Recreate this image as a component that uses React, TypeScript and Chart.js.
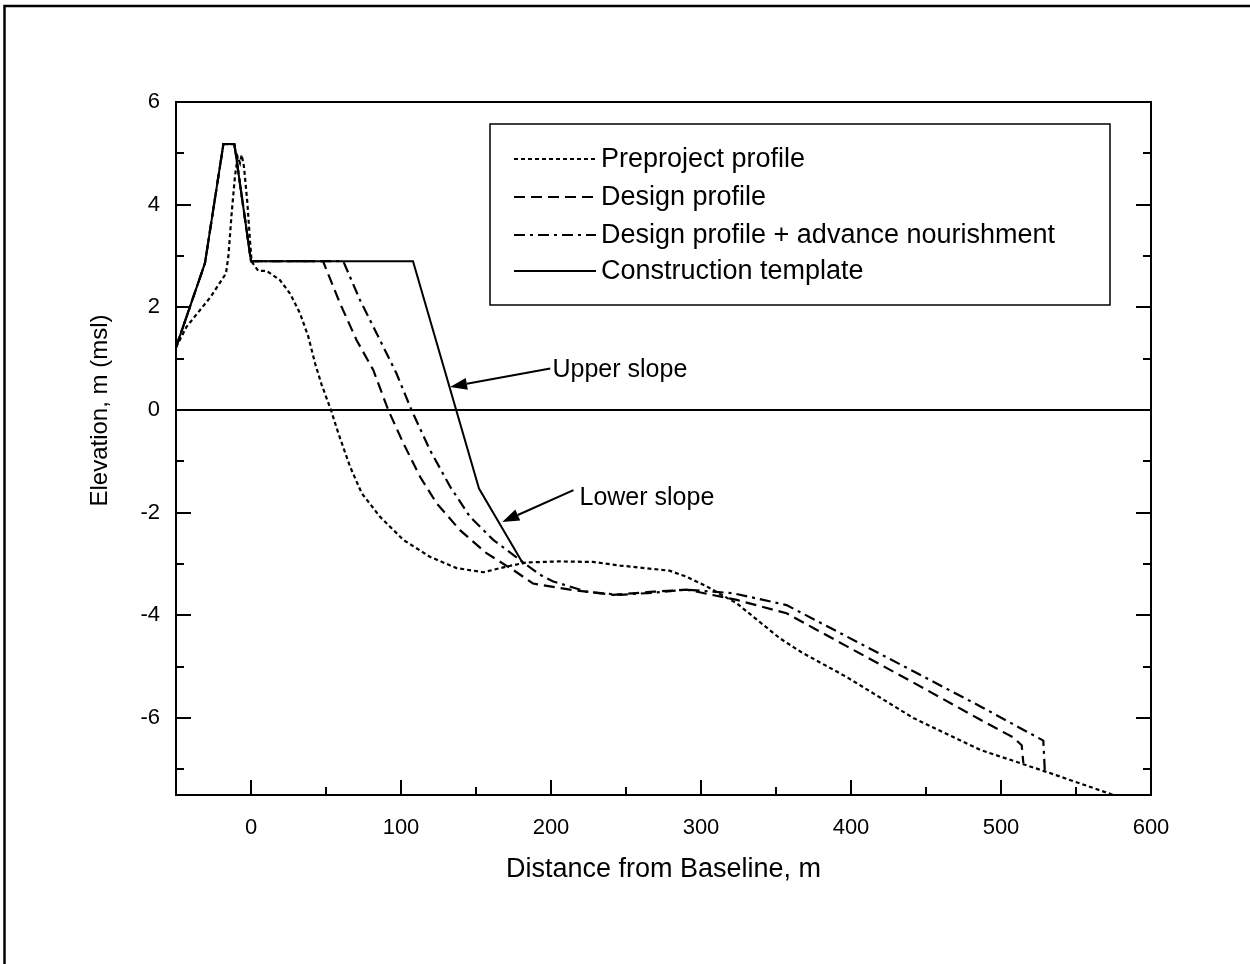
import React, { useEffect, useRef } from 'react';
import { Chart, registerables } from 'chart.js';

Chart.register(...registerables);

const FONT = "'Liberation Sans', Arial, Helvetica, sans-serif";

const seriesNames = [
  'Preproject profile',
  'Design profile',
  'Design profile + advance nourishment',
  'Construction template',
];

const preprojectX = [-50, -43, -27, -16.7, -15.1, -12.9, -10.7, -8.9, -7.3, -6.2, -4.7, -2.4, -0.7, 0.4, 4.9, 10.4, 19.3, 26, 32.7, 38.2, 42.7, 47, 53.3, 58.2, 66, 73.8, 86, 101.6, 119.3, 137, 155, 170.4, 183.8, 205, 228, 246, 279, 290.5, 304, 324, 352.7, 367, 397, 441.6, 486, 530.4, 575];
const preprojectY = [1.22, 1.62, 2.2, 2.66, 2.99, 3.83, 4.55, 4.93, 4.81, 4.97, 4.74, 4.03, 3.31, 2.89, 2.71, 2.71, 2.53, 2.27, 1.88, 1.43, 0.91, 0.5, 0, -0.45, -1.1, -1.62, -2.08, -2.53, -2.86, -3.08, -3.16, -3.05, -2.97, -2.95, -2.96, -3.03, -3.13, -3.25, -3.44, -3.77, -4.45, -4.72, -5.2, -6.0, -6.62, -7.05, -7.5];

const designX = [-50, -30.7, -18.4, -11.1, 0, 48, 59.3, 70.4, 81.5, 91.5, 101.6, 112.7, 123.8, 139.3, 157, 175, 188, 212.7, 241.5, 268, 290.5, 323.8, 357, 397, 441.6, 486, 508.2, 513.8, 514.9];
const designY = [1.22, 2.86, 5.18, 5.18, 2.9, 2.9, 2.08, 1.36, 0.78, 0, -0.65, -1.3, -1.82, -2.34, -2.79, -3.12, -3.38, -3.5, -3.6, -3.54, -3.5, -3.7, -3.96, -4.6, -5.31, -6.03, -6.38, -6.53, -6.88];

const advanceX = [-50, -30.7, -18.4, -11.1, 0, 61.5, 72.7, 86, 97, 107, 119.3, 132.7, 146, 161.5, 179.3, 192.7, 201.5, 223.8, 246, 268, 290.5, 321.5, 357, 397, 441.6, 486, 528.2, 529.3];
const advanceY = [1.22, 2.86, 5.18, 5.18, 2.9, 2.9, 2.14, 1.36, 0.71, 0, -0.78, -1.49, -2.08, -2.53, -2.92, -3.21, -3.34, -3.54, -3.6, -3.56, -3.5, -3.57, -3.8, -4.41, -5.09, -5.77, -6.44, -7.08];

const templateX = [-50, -30.7, -18.4, -11.1, 0, 108, 152, 181.5];
const templateY = [1.22, 2.86, 5.18, 5.18, 2.9, 2.9, -1.53, -3.0];

const zeroLineX = [-50, 600];
const zeroLineY = [0, 0];

const annotationLabels = ['Upper slope', 'Lower slope'];
const annotationTextX = [201, 219];
const annotationTextY = [0.78, -1.71];
const annotationTailX = [199.5, 215];
const annotationTailY = [0.81, -1.56];
const annotationTipX = [132.7, 167.5];
const annotationTipY = [0.45, -2.18];

const xTitle = 'Distance from Baseline, m';
const yTitle = 'Elevation, m (msl)';

const dashPatterns: number[][] = [[4, 3], [11, 6], [11, 5, 3, 5], []];

function toPoints(xs: number[], ys: number[]) {
  return xs.map((x, i) => ({ x, y: ys[i] }));
}

const chartPlugin = {
  id: 'profileDecor',
  beforeDraw(chart: any) {
    const ctx = chart.ctx;
    ctx.save();
    ctx.fillStyle = '#ffffff';
    ctx.fillRect(0, 0, chart.width, chart.height);
    // page frame
    ctx.strokeStyle = '#000';
    ctx.lineWidth = 2.5;
    ctx.beginPath();
    ctx.moveTo(4.5, chart.height);
    ctx.lineTo(4.5, 6);
    ctx.lineTo(chart.width, 6);
    ctx.stroke();
    ctx.restore();
  },
  afterDatasetsDraw(chart: any) {
    const ctx = chart.ctx;
    const { left, right, top, bottom } = chart.chartArea;
    const xs = chart.scales.x;
    const ys = chart.scales.y;
    ctx.save();
    ctx.strokeStyle = '#000';
    ctx.fillStyle = '#000';
    ctx.lineWidth = 2;
    ctx.setLineDash([]);
    ctx.strokeRect(left, top, right - left, bottom - top);
    // inner ticks
    ctx.beginPath();
    xs.ticks.forEach((t: any) => {
      const v = t.value;
      if (v <= xs.min || v >= xs.max) return;
      const px = Math.round(xs.getPixelForValue(v));
      const len = v % 100 === 0 ? 15 : 8;
      ctx.moveTo(px, bottom);
      ctx.lineTo(px, bottom - len);
    });
    ys.ticks.forEach((t: any) => {
      const v = t.value;
      if (!Number.isInteger(v) || v <= ys.min || v >= ys.max) return;
      const py = Math.round(ys.getPixelForValue(v));
      const len = v % 2 === 0 ? 15 : 8;
      ctx.moveTo(left, py);
      ctx.lineTo(left + len, py);
      ctx.moveTo(right, py);
      ctx.lineTo(right - len, py);
    });
    ctx.stroke();

    // y axis title
    ctx.save();
    ctx.translate(100, (top + bottom) / 2 - 38);
    ctx.rotate(-Math.PI / 2);
    ctx.font = `24px ${FONT}`;
    ctx.textAlign = 'center';
    ctx.textBaseline = 'middle';
    ctx.fillText(yTitle, 0, 0);
    ctx.restore();

    // legend box
    const bx = 490, by = 124, bw = 620, bh = 181;
    ctx.fillStyle = '#fff';
    ctx.fillRect(bx, by, bw, bh);
    ctx.fillStyle = '#000';
    ctx.lineWidth = 1.5;
    ctx.strokeRect(bx, by, bw, bh);
    ctx.font = `27px ${FONT}`;
    ctx.textBaseline = 'middle';
    ctx.textAlign = 'left';
    const rowY = [159, 197, 235, 271];
    seriesNames.forEach((name, i) => {
      ctx.beginPath();
      ctx.lineWidth = 2;
      ctx.setLineDash(dashPatterns[i]);
      ctx.moveTo(514, rowY[i]);
      ctx.lineTo(596, rowY[i]);
      ctx.stroke();
      ctx.setLineDash([]);
      ctx.fillText(name, 601, rowY[i] + 1);
    });

    // annotations
    ctx.font = `25px ${FONT}`;
    annotationLabels.forEach((label, i) => {
      const tx = xs.getPixelForValue(annotationTextX[i]);
      const ty = ys.getPixelForValue(annotationTextY[i]);
      ctx.fillText(label, tx, ty);
      const ax = xs.getPixelForValue(annotationTailX[i]);
      const ay = ys.getPixelForValue(annotationTailY[i]);
      const px = xs.getPixelForValue(annotationTipX[i]);
      const py = ys.getPixelForValue(annotationTipY[i]);
      const ang = Math.atan2(py - ay, px - ax);
      const hl = 17, hw = 6;
      const bxp = px - hl * Math.cos(ang);
      const byp = py - hl * Math.sin(ang);
      ctx.lineWidth = 2;
      ctx.beginPath();
      ctx.moveTo(ax, ay);
      ctx.lineTo(bxp, byp);
      ctx.stroke();
      ctx.beginPath();
      ctx.moveTo(px, py);
      ctx.lineTo(bxp + hw * Math.sin(ang), byp - hw * Math.cos(ang));
      ctx.lineTo(bxp - hw * Math.sin(ang), byp + hw * Math.cos(ang));
      ctx.closePath();
      ctx.fill();
    });
    ctx.restore();
  },
};

export default function App() {
  const canvasRef = useRef<HTMLCanvasElement | null>(null);

  useEffect(() => {
    document.body.style.margin = '0';
    const canvas = canvasRef.current;
    if (!canvas) return;
    const lineDs = (label: string, xs: number[], ys: number[], dash: number[], width: number) => ({
      label,
      data: toPoints(xs, ys),
      borderColor: '#000',
      backgroundColor: '#000',
      borderWidth: width,
      borderDash: dash,
      pointRadius: 0,
      tension: 0,
      fill: false,
      showLine: true,
    });
    const chart = new Chart(canvas, {
      type: 'scatter',
      data: {
        datasets: [
          lineDs('zero', zeroLineX, zeroLineY, [], 2),
          lineDs(seriesNames[0], preprojectX, preprojectY, dashPatterns[0], 2.2),
          lineDs(seriesNames[1], designX, designY, dashPatterns[1], 2.2),
          lineDs(seriesNames[2], advanceX, advanceY, dashPatterns[2], 2.2),
          lineDs(seriesNames[3], templateX, templateY, dashPatterns[3], 2),
        ],
      },
      options: {
        responsive: false,
        animation: false,
        devicePixelRatio: 1,
        layout: { padding: { left: 0, top: 102, right: 99, bottom: 0 } },
        plugins: {
          legend: { display: false },
          tooltip: { enabled: false },
        },
        scales: {
          x: {
            type: 'linear',
            min: -50,
            max: 600,
            grid: { display: false, drawTicks: false },
            border: { display: false },
            ticks: {
              stepSize: 50,
              autoSkip: false,
              maxRotation: 0,
              padding: 20,
              color: '#000',
              font: { family: FONT, size: 22 },
              callback: (v: any) => (Number(v) % 100 === 0 ? String(v) : ''),
            },
            title: {
              display: true,
              text: xTitle,
              color: '#000',
              font: { family: FONT, size: 27 },
              padding: { top: 0, bottom: 78 },
            },
            afterFit: (s: any) => {
              s.height = 169;
            },
          },
          y: {
            type: 'linear',
            min: -7.5,
            max: 6,
            grid: { display: false, drawTicks: false },
            border: { display: false },
            ticks: {
              stepSize: 1,
              autoSkip: false,
              padding: 16,
              color: '#000',
              font: { family: FONT, size: 22 },
              callback: (v: any) => {
                const n = Number(v);
                return Number.isInteger(n) && n % 2 === 0 ? String(n) : '';
              },
            },
            title: { display: false },
            afterFit: (s: any) => {
              s.width = 176;
            },
          },
        },
      },
      plugins: [chartPlugin],
    });
    return () => chart.destroy();
  }, []);

  return (
    <div style={{ width: 1250, height: 964 }}>
      <canvas ref={canvasRef} width={1250} height={964} style={{ width: 1250, height: 964, display: 'block' }} />
    </div>
  );
}
